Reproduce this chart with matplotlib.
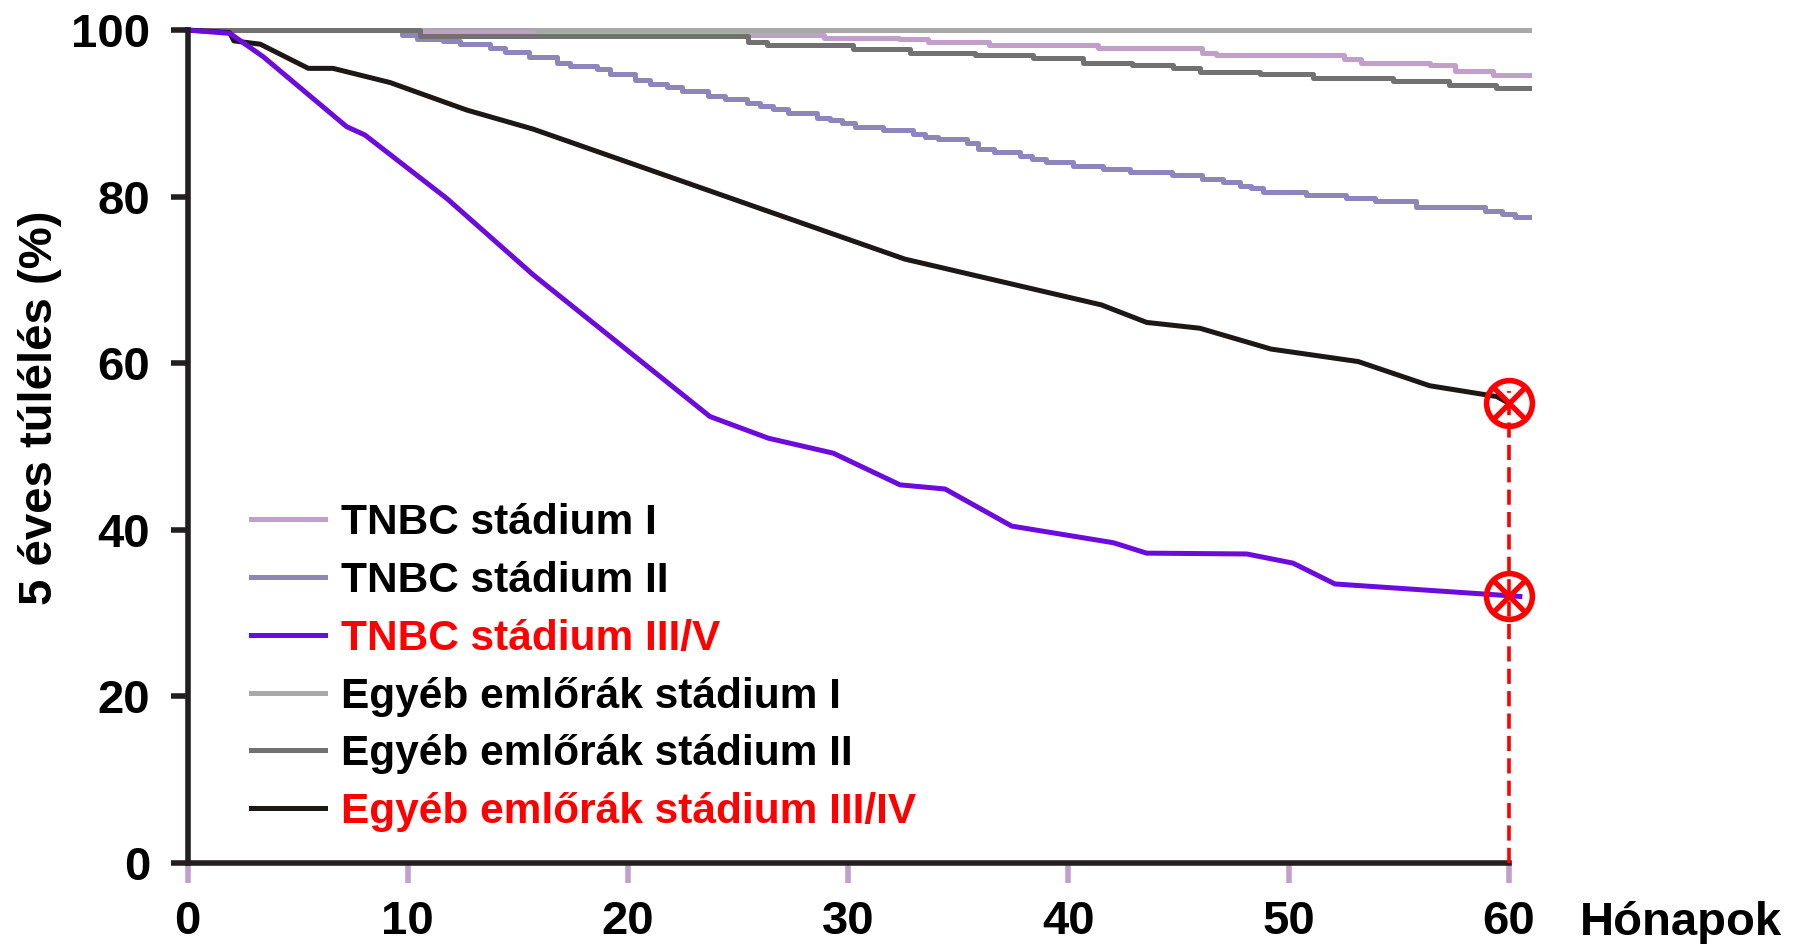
import matplotlib.pyplot as plt

plt.rcParams['font.family'] = ['Liberation Sans', 'DejaVu Sans']
plt.rcParams['font.weight'] = 'bold'

# ---------------------------------------------
# Data
# ---------------------------------------------
labels = ["TNBC stádium I", "TNBC stádium II", "TNBC stádium III/V",
          "Egyéb emlőrák stádium I", "Egyéb emlőrák stádium II",
          "Egyéb emlőrák stádium III/IV"]
label_colors = ["black", "black", "red", "black", "black", "red"]
line_colors = ["#C29FC8", "#8E86BB", "#6C0BDC", "#A8A8A8", "#717171", "#1C1815"]

# Kaplan-Meier step curves (start of each step, survival %)
tnbc1_t = [0, 10.6, 15.7, 28.9, 32.3, 33.6, 36.4, 41.35, 46.05, 46.7, 52.5,
           53.3, 56.4, 57.55, 59.3, 60.9]
tnbc1_v = [100, 99.8, 99.4, 99.1, 98.9, 98.6, 98.2, 97.8, 97.3, 97.0, 96.5,
           96.1, 95.8, 95.1, 94.6, 94.6]

tnbc2_t = [0, 9.72, 10.4, 11.6, 12.37, 13.73, 14.4, 15.5, 16.76, 17.36,
           18.57, 19.18, 20.3, 21.0, 21.75, 22.43, 23.64, 24.4, 25.39, 25.99,
           26.6, 27.28, 28.56, 29.17, 29.7, 30.3, 31.6, 32.95, 33.48, 34.09,
           35.38, 35.9, 36.6, 37.8, 38.33, 39.0, 40.2, 41.58, 42.8, 44.69,
           46.05, 47.03, 47.79, 48.3, 48.85, 50.8, 52.6, 53.9, 55.8, 58.9,
           59.67, 60.3, 60.9]
tnbc2_v = [100, 99.4, 98.9, 98.65, 98.3, 97.9, 97.4, 96.8, 96.1, 95.7,
           95.3, 94.7, 94.0, 93.5, 93.2, 92.7, 92.1, 91.7, 91.2, 90.9,
           90.5, 90.1, 89.5, 89.2, 88.8, 88.4, 88.0, 87.5, 87.2, 86.9,
           86.4, 85.7, 85.3, 84.9, 84.5, 84.2, 83.7, 83.3, 83.0, 82.6,
           82.1, 81.7, 81.3, 81.0, 80.6, 80.2, 79.8, 79.5, 78.8, 78.3,
           77.9, 77.5, 77.5]

other1_t = [0, 60.9]
other1_v = [100, 100]

other2_t = [0, 10.55, 25.46, 26.3, 30.2, 32.8, 35.75, 38.4, 40.67, 42.87,
            44.76, 45.97, 48.7, 51.1, 54.75, 57.3, 59.4, 60.9]
other2_v = [100, 99.3, 98.6, 98.2, 97.7, 97.3, 97.0, 96.6, 96.1, 95.8,
            95.4, 95.0, 94.7, 94.3, 93.9, 93.4, 93.1, 93.1]

# polyline curves
tnbc3_t = [0, 1.92, 3.43, 7.22, 8.05, 11.76, 15.7, 23.72, 26.37, 29.32,
           32.35, 34.4, 37.42, 42.04, 43.55, 48.1, 50.2, 52.1, 60.5]
tnbc3_v = [100, 99.6, 96.8, 88.4, 87.4, 79.8, 70.6, 53.6, 51.0, 49.2,
           45.4, 44.9, 40.45, 38.45, 37.2, 37.1, 36.0, 33.5, 32.0]

other3_t = [0, 1.9, 2.1, 3.3, 5.48, 6.6, 9.19, 12.67, 15.7, 32.57, 41.5,
            43.55, 45.97, 49.2, 53.16, 56.4, 59.45, 60.0]
other3_v = [100, 99.7, 98.7, 98.3, 95.4, 95.4, 93.7, 90.4, 88.1, 72.5, 67.0,
            64.9, 64.2, 61.7, 60.2, 57.3, 56.0, 55.2]

# 5-year marks
mark_x = [60, 60]
mark_y = [55.2, 32.0]

x_ticks = [0, 10, 20, 30, 40, 50, 60]
y_ticks = [0, 20, 40, 60, 80, 100]

# ---------------------------------------------
# Plot
# ---------------------------------------------
fig = plt.figure(figsize=(18.06, 9.44), dpi=100)
ax = fig.add_axes([0.1039, 0.0858, 0.7462, 0.8912])

lw = 3.6
l_o1, = ax.plot(other1_t, other1_v, drawstyle="steps-post", color=line_colors[3], lw=lw, clip_on=False)
l_t1, = ax.plot(tnbc1_t, tnbc1_v, drawstyle="steps-post", color=line_colors[0], lw=lw, clip_on=False)
l_t2, = ax.plot(tnbc2_t, tnbc2_v, drawstyle="steps-post", color=line_colors[1], lw=lw, clip_on=False)
l_o2, = ax.plot(other2_t, other2_v, drawstyle="steps-post", color=line_colors[4], lw=lw, clip_on=False)
l_o3, = ax.plot(other3_t, other3_v, color=line_colors[5], lw=lw, clip_on=False)
l_t3, = ax.plot(tnbc3_t, tnbc3_v, color=line_colors[2], lw=lw, clip_on=False)

# red dashed connector + crossed circles
ax.vlines(mark_x[0], 0, mark_y[0] + 1.5, color="red", lw=2.6,
          linestyles=(0, (4.2, 2.0)), zorder=5)
ax.plot(mark_x, mark_y, "o", ms=33, mfc="none", mec="red", mew=4, zorder=6, clip_on=False)
ax.plot(mark_x, mark_y, "x", ms=24, mec="red", mew=3.8, zorder=6, clip_on=False)

# ---------------------------------------------
# Axes styling
# ---------------------------------------------
ax.set_xlim(0, 61.2)
ax.set_ylim(0, 101)
for s in ["top", "right"]:
    ax.spines[s].set_visible(False)
for s in ["left", "bottom"]:
    ax.spines[s].set_linewidth(4)
    ax.spines[s].set_color("#231F20")
ax.spines["left"].set_bounds(0, 100)
ax.spines["bottom"].set_bounds(0, 60)

ax.set_xticks(x_ticks)
ax.set_yticks(y_ticks)
ax.tick_params(axis="x", direction="out", length=14.4, width=4, color="#C29FC8",
               pad=12, labelsize=34)
ax.tick_params(axis="y", direction="out", length=12, width=4, color="#231F20",
               pad=15, labelsize=34)
for lab in ax.get_xticklabels() + ax.get_yticklabels():
    lab.set_fontweight("bold")

fig.text(0.022, 0.568, "5 éves túlélés (%)", rotation=90, ha="center",
         va="center", fontsize=34, fontweight="bold")
fig.text(0.8748, 0.0095, "Hónapok", ha="left", va="baseline",
         fontsize=34, fontweight="bold")

# ---------------------------------------------
# Legend
# ---------------------------------------------
handles = [l_t1, l_t2, l_t3, l_o1, l_o2, l_o3]
leg = ax.legend(handles, labels, loc="upper left", bbox_to_anchor=(0.139, 0.467),
                bbox_transform=fig.transFigure, frameon=False,
                handlelength=1.75, handletextpad=0.38, labelspacing=0.42,
                borderpad=0, borderaxespad=0, labelcolor=label_colors,
                prop={"weight": "bold", "size": 30.5})

fig.savefig("out.png", dpi=100)
